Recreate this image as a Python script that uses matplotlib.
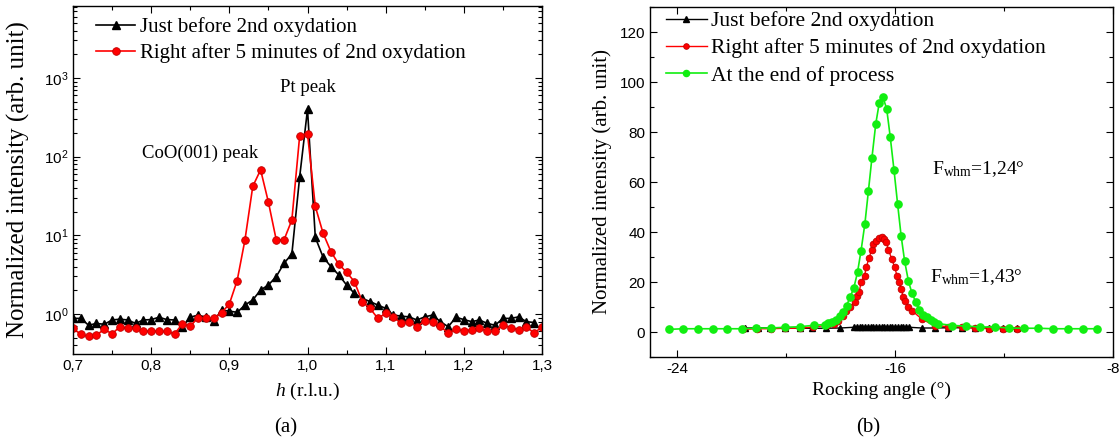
import numpy as np
import matplotlib
matplotlib.use("Agg")
import matplotlib.pyplot as plt
from matplotlib.ticker import FixedLocator, FuncFormatter, NullFormatter

plt.rcParams['axes.unicode_minus'] = False
plt.rcParams['mathtext.fontset'] = 'custom'
plt.rcParams['mathtext.rm'] = 'Liberation Serif'
plt.rcParams['mathtext.it'] = 'Liberation Serif:italic'
plt.rcParams['mathtext.sf'] = 'Liberation Sans'

# ---------------- Panel (a) data ----------------
h = [round(0.70 + 0.01 * i, 2) for i in range(61)]
before_a = [0.88, 0.88, 0.72, 0.76, 0.74, 0.84, 0.86, 0.84, 0.76, 0.84,
            0.85, 0.91, 0.85, 0.84, 0.69, 0.91, 0.97, 0.91, 0.81, 1.12,
            1.09, 1.05, 1.30, 1.51, 2.02, 2.34, 2.99, 4.42, 5.8, 55.6,
            398, 9.4, 5.27, 4.01, 3.14, 2.34, 1.83, 1.58, 1.44, 1.30,
            1.18, 0.97, 0.94, 0.92, 0.84, 0.92, 0.97, 0.80, 0.69, 0.91,
            0.85, 0.80, 0.84, 0.76, 0.72, 0.88, 0.88, 0.92, 0.80, 0.78,
            np.nan]
after_a = [0.66, 0.55, 0.52, 0.54, 0.64, 0.56, 0.69, 0.66, 0.66, 0.60,
           0.61, 0.60, 0.60, 0.56, 0.75, 0.70, 0.90, 0.88, 0.88, 1.04,
           1.34, 2.66, 8.76, 42.0, 68.0, 26.4, 8.76, 8.76, 15.7, 185,
           196, 23.3, 10.6, 6.2, 4.3, 3.4, 2.58, 1.44, 1.18, 0.88,
           1.02, 0.92, 0.76, 0.80, 0.69, 0.82, 0.80, 0.70, 0.57, 0.64,
           0.61, 0.63, 0.66, 0.60, 0.61, 0.72, 0.67, 0.63, 0.69, 0.57,
           0.69]

# ---------------- Panel (b) data ----------------
ang_before = [-21.50, -21.05, -20.59, -20.04, -19.51, -19.06, -18.53, -18.02,
              -17.5, -17.4, -17.3, -17.2, -17.1, -17.0, -16.9, -16.8, -16.7,
              -16.6, -16.5, -16.4, -16.3, -16.2, -16.1, -16.0, -15.9, -15.8,
              -15.7, -15.6, -15.5,
              -15.02, -14.53, -14.04, -13.55, -13.06, -12.54, -12.03, -11.53]
int_before = [1.6, 1.7, 1.6, 1.5, 1.5, 1.5, 1.5, 1.6,
              1.9, 1.9, 1.9, 1.9, 1.9, 1.9, 1.9, 1.9, 1.9,
              1.9, 1.9, 1.9, 1.9, 1.9, 1.9, 1.9, 1.9, 1.9,
              1.9, 1.9, 1.9,
              1.6, 1.6, 1.7, 1.7, 1.7, 1.8, 1.7, 1.6]

ang_after = [-21.57, -21.07, -20.55, -20.04, -19.51, -19.00, -18.50, -18.26,
             -18.08, -17.93, -17.80, -17.67, -17.49, -17.41, -17.32, -17.25,
             -17.12, -17.06, -16.96, -16.86, -16.80, -16.72, -16.60, -16.50,
             -16.41, -16.32, -16.25, -16.12, -16.02, -15.93, -15.85, -15.78,
             -15.70, -15.62, -15.51, -15.39, -15.02, -14.53, -14.04, -13.55,
             -13.06, -12.54, -12.03, -11.53]
int_after = [1.05, 1.3, 1.3, 1.5, 1.5, 2.0, 2.7, 3.3,
             4.6, 6.6, 8.6, 10.0, 12.0, 14.6, 15.9, 19.9,
             22.6, 25.9, 29.5, 32.9, 35.2, 36.5, 37.5, 37.9,
             37.2, 35.9, 32.9, 29.2, 25.9, 22.6, 19.9, 17.2,
             14.0, 12.6, 10.0, 8.6, 5.2, 2.4, 2.2, 2.0,
             1.6, 1.4, 1.3, 1.05]

ang_end = [-24.32, -23.77, -23.25, -22.70, -22.18, -21.63, -21.10, -20.56,
           -20.03, -19.51, -18.97, -18.58, -18.45, -18.31, -18.18, -18.04,
           -17.91, -17.78, -17.65, -17.52, -17.38, -17.25, -17.11, -16.98,
           -16.85, -16.71, -16.58, -16.45, -16.31, -16.18, -16.04, -15.91,
           -15.78, -15.65, -15.51, -15.38, -15.24, -15.11, -14.97, -14.84,
           -14.70, -14.57, -14.43, -13.92, -13.39, -12.88, -12.33, -11.81,
           -11.27, -10.74, -10.19, -9.64, -9.11, -8.60]
int_end = [1.05, 1.3, 1.3, 1.3, 1.3, 1.3, 1.6, 1.6,
           1.9, 2.1, 2.7, 3.0, 3.5, 4.2, 5.0, 6.4,
           8.0, 10.6, 14.0, 17.5, 23.9, 32.6, 43.3, 56.5,
           69.8, 83.3, 91.8, 94.0, 89.3, 78.1, 64.7, 51.3,
           38.5, 28.3, 20.3, 15.5, 12.0, 9.0, 7.0, 6.0,
           5.0, 4.2, 3.4, 2.6, 2.4, 2.0, 2.0, 1.6,
           1.5, 1.5, 1.3, 1.3, 1.3, 1.3]

labels = ["Just before 2nd oxydation",
          "Right after 5 minutes of 2nd oxydation",
          "At the end of process"]

RED = '#ff0000'
GREEN = '#11ee11'
SERIF = 'Liberation Serif'
SANS = 'Liberation Sans'

fig = plt.figure(figsize=(11.19, 4.41), dpi=100)
axa = fig.add_axes([73/1119, 1-354/441, 469/1119, 348/441])
axb = fig.add_axes([650/1119, 1-357/441, 463/1119, 350/441])

for ax in (axa, axb):
    ax.tick_params(which='both', direction='in', top=True, right=True,
                   labelsize=11, width=0.8)
    ax.tick_params(which='major', length=5)
    ax.tick_params(which='minor', length=3)
    for s in ax.spines.values():
        s.set_linewidth(1.0)

# ---- panel (a)
axa.plot(h, before_a, '-', color='black', lw=1.2, marker='^', ms=5.5,
         mfc='black', mec='black', label=labels[0])
axa.plot(h, after_a, '-', color=RED, lw=1.2, marker='o', ms=5.5,
         mfc=RED, mec='#c00000', mew=0.6, label=labels[1])
axa.set_yscale('log')
axa.set_xlim(0.7, 1.3)
axa.set_ylim(10**-0.508, 10**3.915)
axa.xaxis.set_major_locator(FixedLocator([0.7, 0.8, 0.9, 1.0, 1.1, 1.2, 1.3]))
axa.xaxis.set_minor_locator(FixedLocator([0.75, 0.85, 0.95, 1.05, 1.15, 1.25]))
axa.xaxis.set_major_formatter(FuncFormatter(lambda v, p: f"{v:.1f}".replace('.', ',')))
axa.yaxis.set_major_locator(FixedLocator([1, 10, 100, 1000]))
minors = [m * 10.0**e for e in range(-1, 4) for m in range(2, 10)]
axa.yaxis.set_minor_locator(FixedLocator(minors))
axa.yaxis.set_minor_formatter(NullFormatter())
axa.yaxis.set_major_formatter(FuncFormatter(
    lambda v, p: r"$\mathsf{10^{%d}}$" % round(np.log10(v))))
for lab in axa.get_xticklabels() + axa.get_yticklabels():
    lab.set_fontfamily(SANS)
axa.set_xlabel(r"$\mathit{h}$ (r.l.u.)", fontfamily=SERIF, fontsize=14, labelpad=6)
axa.set_ylabel("Normalized intensity (arb. unit)", fontfamily=SERIF, fontsize=18)
axa.yaxis.set_label_coords(-0.091, 0.5)
axa.text(1.0, 767, "Pt peak", fontfamily=SERIF, fontsize=13.5,
         ha='center', va='center')
axa.text(0.862, 111, "CoO(001) peak", fontfamily=SERIF, fontsize=13.5,
         ha='center', va='center')
axa.legend(loc='upper left', bbox_to_anchor=(0.022, 1.003), frameon=False,
           prop={'family': SERIF, 'size': 15}, handlelength=1.9,
           handletextpad=0.2, labelspacing=0.28, borderaxespad=0.2)

# ---- panel (b)
axb.plot(ang_before, int_before, '-', color='black', lw=1.0, marker='^', ms=5,
         mfc='black', mec='black', label=labels[0])
axb.plot(ang_after, int_after, '-', color=RED, lw=1.0, marker='o', ms=4.8,
         mfc=RED, mec='#c00000', mew=0.6, label=labels[1])
axb.plot(ang_end, int_end, '-', color=GREEN, lw=1.2, marker='o', ms=5.2,
         mfc=GREEN, mec=GREEN, label=labels[2])
axb.set_xlim(-25, -8)
axb.set_ylim(-10, 130)
axb.xaxis.set_major_locator(FixedLocator([-24, -16, -8]))
axb.xaxis.set_minor_locator(FixedLocator([-20, -12]))
axb.yaxis.set_major_locator(FixedLocator([0, 20, 40, 60, 80, 100, 120]))
axb.yaxis.set_minor_locator(FixedLocator([-10, 10, 30, 50, 70, 90, 110, 130]))
axb.xaxis.set_major_formatter(FuncFormatter(lambda v, p: f"{int(v)}"))
axb.yaxis.set_major_formatter(FuncFormatter(lambda v, p: f"{int(v)}"))
for lab in axb.get_xticklabels() + axb.get_yticklabels():
    lab.set_fontfamily(SANS)
axb.set_xlabel("Rocking angle (°)", fontfamily=SERIF, fontsize=14, labelpad=4)
axb.set_ylabel("Normalized intensity (arb. unit)", fontfamily=SERIF, fontsize=15)
axb.yaxis.set_label_coords(-0.083, 0.5)
axb.text(-14.64, 65.1, r"F$_{\mathrm{whm}}$=1,24°", fontfamily=SERIF,
         fontsize=14, ha='left', va='center')
axb.text(-14.72, 22.0, r"F$_{\mathrm{whm}}$=1,43°", fontfamily=SERIF,
         fontsize=14, ha='left', va='center')
axb.legend(loc='upper left', bbox_to_anchor=(0.006, 1.025), frameon=False,
           prop={'family': SERIF, 'size': 15.5}, handlelength=1.9,
           handletextpad=0.2, labelspacing=0.33, borderaxespad=0.2,
           markerscale=0.85)

fig.text(286/1119, 1-428/441, "(a)", fontfamily=SERIF, fontsize=15,
         ha='center', va='center')
fig.text(868/1119, 1-428/441, "(b)", fontfamily=SERIF, fontsize=15,
         ha='center', va='center')

fig.savefig("out.png", dpi=100)
